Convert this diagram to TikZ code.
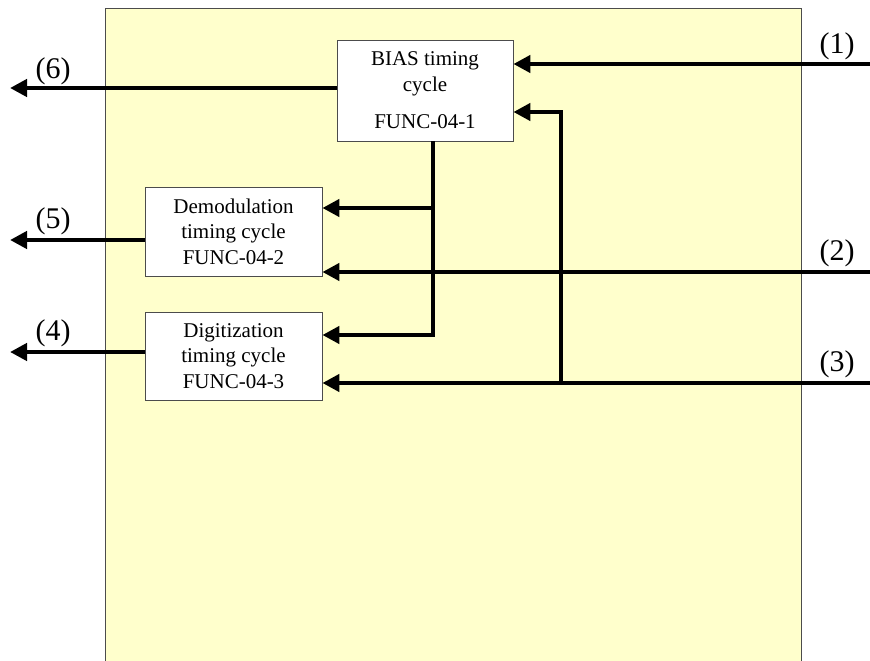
\documentclass[tikz,border=0pt]{standalone}
\usepackage{fontspec}
\setmainfont{Liberation Serif}
\usetikzlibrary{arrows.meta}
\definecolor{bg}{HTML}{FFFFCC}
\begin{document}
\begin{tikzpicture}[x=1pt,y=-1pt,
  box/.style={draw=black!70, line width=0.8pt, fill=white, font=\fontsize{21}{25.5}\selectfont, align=center, inner sep=0pt},
  sig/.style={line width=4.5pt},
  arr/.style={sig,-{Triangle[length=17pt,width=17pt]}},
  lbl/.style={font=\fontsize{30}{32}\selectfont, inner sep=0pt}]
\useasboundingbox (0,0) rectangle (870,661);
\fill[bg] (105,8) rectangle (801,661);
\draw[black!70, line width=0.8pt] (105,661) -- (105,8) -- (801,8) -- (801,661);

\node[box, minimum width=176pt, minimum height=101pt] (bias) at (425,90.5)
  {BIAS timing\\cycle\\[12pt]FUNC-04-1};
\node[box, minimum width=177pt, minimum height=89pt] (demod) at (233.5,231.5)
  {Demodulation\\timing cycle\\FUNC-04-2};
\node[box, minimum width=177pt, minimum height=88pt] (digit) at (233.5,356)
  {Digitization\\timing cycle\\FUNC-04-3};

% free ends and bends
\coordinate (in1) at (870,64);
\coordinate (in2) at (870,272);
\coordinate (in3) at (870,383);
\coordinate (j3) at (561,383);
\coordinate (j3top) at (561,112);
\coordinate (bx) at (433,0);
\coordinate (bdem) at (433,208);
\coordinate (bdig) at (433,335);
\coordinate (o6) at (10,88);
\coordinate (o5) at (10,240);
\coordinate (o4) at (10,352);

% inputs
\draw[arr] (in1) -- (bias.east |- in1);
\draw[arr] (in2) -- (demod.east |- in2);
\draw[arr] (in3) -- (digit.east |- in3);
\draw[arr] (j3) -- (j3top) -- (bias.east |- j3top);
\draw[arr] (bias.south -| bx) -- (bdig) -- (digit.east |- bdig);
\draw[arr] (bdem) -- (demod.east |- bdem);

% outputs
\draw[arr] (bias.west |- o6) -- (o6);
\draw[arr] (demod.west |- o5) -- (o5);
\draw[arr] (digit.west |- o4) -- (o4);

% labels
\node[lbl] (l1) at (837,46) {(1)};
\node[lbl] (l2) at (837,253) {(2)};
\node[lbl] (l3) at (837,364) {(3)};
\node[lbl] (l6) at (53,71) {(6)};
\node[lbl] (l5) at (53,221) {(5)};
\node[lbl] (l4) at (53,333) {(4)};
\end{tikzpicture}
\end{document}
